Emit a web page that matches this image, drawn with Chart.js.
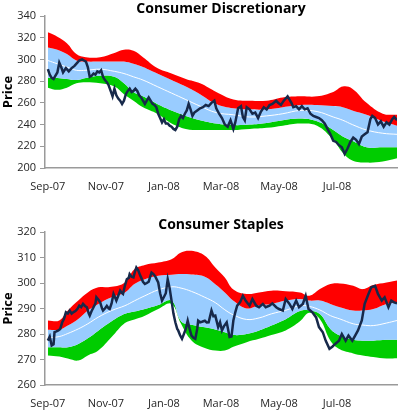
<!DOCTYPE html>
<html>
<head>
<meta charset="utf-8">
<script src="https://cdn.jsdelivr.net/npm/chart.js@4.4.0/dist/chart.umd.min.js"></script>
<style>
  html, body { margin: 0; padding: 0; background: #fff; }
  #wrap { position: relative; width: 400px; height: 413px; }
  canvas { position: absolute; left: 0; }
  #discChart { top: 0; }
  #stapChart { top: 200px; }
</style>
</head>
<body>
<div id="wrap">
  <canvas id="discChart" width="400" height="200"></canvas>
  <canvas id="stapChart" width="400" height="213"></canvas>
</div>
<script>
// x axis: days since 1 Sep 2007, labelled every two months
const tickDays = [0, 61, 122, 182, 243, 304];
const tickLabels = ['Sep-07', 'Nov-07', 'Jan-08', 'Mar-08', 'May-08', 'Jul-08'];

// Consumer Discretionary bands
const discBandDays   = [0, 10, 20, 30, 40, 55, 70, 80, 90, 100, 115, 130, 145, 160, 177, 195, 212, 230, 247, 265, 283, 300, 310, 320, 335, 352, 367];
const discRedTop     = [325, 321, 315, 305, 302, 302, 306, 309, 308, 302, 292, 287, 282, 278, 270, 263, 262, 262, 265, 266, 266, 270, 275, 273, 260, 250, 249];
const discBlueTop    = [311, 309, 305, 299, 298, 298, 298, 298, 296, 293, 287, 281, 275, 268, 259, 255, 254, 254, 256, 258, 258, 257, 256, 253, 249, 243, 239];
const discMid        = [299, 296, 293, 290, 290, 291, 289, 287, 284, 281, 275, 269, 263, 257, 251, 249, 247, 248, 250, 253, 252, 247, 244, 240, 235, 232, 231];
const discBlueBottom = [283, 283, 282, 281, 283, 285, 284, 278, 270, 266, 259, 253, 248, 244, 241, 239.5, 240, 241.5, 244, 245.5, 243, 235, 229, 225, 219, 219, 219];
const discGreenBottom= [274, 272, 274, 278, 279, 278, 275, 268, 262, 256, 250, 241, 236, 235, 235, 235, 236, 237, 239, 241, 239, 226, 214, 207, 205, 206, 209];

const discPriceDays = [0, 2, 4, 6, 8, 10, 12, 14, 16, 19, 22, 25, 28, 31, 33, 36, 38, 40, 42, 44, 46, 48, 50, 52, 54, 56, 58, 60, 62, 64, 66, 68, 70, 72, 74, 76, 78, 80, 82, 84, 86, 88, 90, 92, 94, 96, 98, 100, 102, 104, 106, 108, 110, 112, 114, 116, 118, 120, 122, 124, 126, 128, 130, 132, 134, 136, 138, 140, 142, 144, 146, 148, 150, 152, 154, 157, 160, 163, 166, 169, 172, 175, 177, 180, 183, 186, 189, 192, 195, 197, 200, 203, 205, 207, 209, 212, 215, 218, 221, 224, 227, 230, 233, 236, 240, 242, 245, 248, 252, 254, 256, 258, 261, 264, 267, 270, 273, 276, 279, 282, 285, 288, 291, 294, 297, 300, 303, 306, 309, 312, 315, 318, 321, 324, 327, 330, 333, 336, 339, 341, 344, 347, 350, 353, 356, 359, 362, 364, 367];
const discPrice     = [291, 286, 283, 282, 285, 288, 297, 293, 288, 292, 289, 292, 294, 297, 299, 300, 299, 298, 293, 284, 285, 287, 286, 289, 288, 290, 284, 281, 279, 276, 271, 266, 273, 267, 264, 262, 259, 262, 268, 271, 273, 270, 271, 273, 271, 267, 265, 262, 259, 262, 265, 262, 259, 258, 256, 250, 246, 242, 245, 241, 241, 239, 238, 236, 235, 238, 245, 248, 246, 250, 253, 259, 254, 248, 251, 253, 255, 256, 258, 257, 260, 262, 255, 250, 246, 240, 238, 244, 236, 242, 255, 257, 247, 244, 256, 254, 250, 251, 246, 252, 256, 254, 258, 259, 262, 260, 258, 262, 266, 263, 260, 256, 257, 254, 257, 254, 255, 250, 248, 247, 246, 244, 241, 236, 231, 225, 224, 221, 219, 213, 218, 224, 228, 226, 222, 229, 231, 233, 245, 248, 246, 240, 243, 238, 242, 240, 245, 247, 244];

// Consumer Staples bands
const stapBandDays   = [0, 12, 21, 32, 42, 53, 67, 81, 91, 102, 116, 130, 140, 151, 165, 176, 186, 195, 209, 222, 235, 250, 265, 275, 286, 297, 307, 321, 331, 342, 356, 367];
const stapRedTop     = [285.3, 285.3, 289.2, 293.1, 296.3, 298.3, 298.5, 300.2, 305.4, 307.1, 308, 309.3, 312, 312.6, 310.7, 306.1, 302.2, 297.5, 295.7, 296.3, 297, 296.8, 296.3, 295, 297.6, 299.6, 299.8, 298.9, 297.6, 299.2, 300.2, 301];
const stapBlueTop    = [281.7, 281.7, 283.3, 285.9, 289.2, 291.8, 294.4, 296.3, 299.6, 301.5, 302.8, 303.2, 303.5, 303.3, 302.5, 299.5, 296.3, 293, 290, 291.3, 291.8, 293.1, 293.7, 293.1, 293.1, 291.8, 290.5, 289.2, 289.2, 289.8, 291.8, 292.4];
const stapMid        = [278.5, 279, 280.2, 282, 284, 286.6, 289.2, 291.1, 293, 295, 297.3, 298.5, 298, 296.7, 294.4, 292.3, 289.5, 287.5, 285.7, 286.3, 287.9, 289.3, 291.1, 290.8, 289.4, 287.2, 285.9, 284, 283.5, 283.3, 284.3, 285.3];
const stapBlueBottom = [274.8, 274.8, 274.8, 276.1, 278.3, 281.3, 285, 287.9, 288.8, 289.8, 291.4, 293.1, 285, 283.6, 282.6, 281.8, 280.7, 279.6, 280, 281.4, 283.3, 285.8, 289, 289.2, 287.8, 282, 279.4, 277.7, 277.4, 277.4, 277.7, 277.7];
const stapGreenBottom= [271.6, 271.2, 270.4, 269.6, 271.6, 273.5, 278.8, 284.3, 285.7, 287.2, 289.8, 291.8, 284, 277.5, 274.5, 273.5, 273.5, 275, 276.8, 278.1, 279.6, 281.4, 285, 288.3, 285.8, 277.4, 274, 272.4, 271.6, 271, 270.4, 270.5];

const stapPriceDays = [0, 2, 4, 6, 7, 9, 11, 13, 15, 17, 19, 21, 23, 25, 27, 29, 31, 33, 35, 37, 39, 41, 43, 44, 46, 48, 50, 51, 53, 55, 57, 58, 60, 62, 64, 65, 67, 69, 71, 72, 74, 76, 78, 79, 81, 83, 85, 86, 88, 90, 92, 93, 95, 97, 98, 100, 102, 104, 106, 108, 109, 111, 113, 116, 118, 120, 122, 124, 126, 128, 130, 132, 134, 136, 137, 139, 141, 143, 145, 147, 149, 151, 153, 155, 157, 158, 160, 162, 165, 167, 169, 172, 174, 176, 179, 181, 183, 185, 188, 191, 193, 195, 197, 199, 202, 205, 208, 212, 215, 219, 222, 226, 229, 233, 236, 240, 243, 247, 250, 254, 257, 261, 264, 268, 271, 274, 278, 282, 285, 289, 292, 296, 299, 302, 306, 309, 313, 316, 320, 323, 326, 330, 333, 337, 340, 344, 347, 351, 354, 358, 361, 364, 367];
const stapPrice     = [277.4, 279, 275.5, 276, 280.7, 281, 281.4, 282, 284.5, 286, 288.5, 288, 289.2, 288, 288.6, 289, 289.8, 291.1, 290.5, 291.8, 291, 290.5, 288, 287.2, 289, 290.5, 292, 294.4, 293.5, 292.4, 290, 289.2, 290, 291, 290, 289.8, 292, 295.7, 294, 293.1, 295, 297, 296, 295.7, 299, 301.5, 302, 303.5, 302.5, 302.2, 305, 306.1, 305, 303, 302.2, 300.5, 299.6, 300, 300.5, 303, 304.1, 303.5, 302.5, 300.2, 296, 293.1, 294.5, 296, 301.5, 298, 293.1, 288, 284.6, 282, 281.4, 279.5, 278.1, 280, 282, 285.2, 282, 279.4, 278.5, 278.1, 282, 285.2, 284.6, 284.8, 285.2, 284.5, 284.6, 289.2, 287, 287.2, 282.7, 284.6, 281.4, 283, 284.6, 278.8, 279, 285.3, 288.5, 291.1, 292.4, 295, 293, 291.1, 293.7, 291.1, 290.5, 291.8, 290.5, 291.1, 292, 290.5, 289.8, 289.2, 293.7, 291.8, 289.8, 293.1, 290.5, 291.8, 295, 289.8, 288.5, 286.5, 282.7, 280.7, 277.4, 274.2, 275, 276.1, 277.4, 280, 277.4, 279.4, 277.4, 279.4, 281.4, 285.3, 291.8, 295.7, 298.3, 298.9, 295.7, 293.1, 294.4, 290.5, 293.1, 292.4, 292];

const RED = '#ff0000';
const BLUE = '#99ccff';
const GREEN = '#00cc00';
const NAVY = '#17294a';
const AXIS = '#9a9a9a';
const TEXT = '#262626';
const FONT = "'Open Sans', sans-serif";

function makeDatasets(days, redTop, blueTop, mid, blueBottom, greenBottom, priceDays, price) {
  const pts = arr => days.map((d, i) => ({ x: d, y: arr[i] }));
  const band = { pointRadius: 0, borderWidth: 0, borderColor: 'rgba(0,0,0,0)', tension: 0.4, order: 2 };
  return [
    { ...band, data: pts(redTop), fill: '+1', backgroundColor: RED },
    { ...band, data: pts(blueTop), fill: '+2', backgroundColor: BLUE },
    { data: pts(mid), borderColor: '#ffffff', borderWidth: 1, pointRadius: 0, fill: false, tension: 0.4, order: 1 },
    { ...band, data: pts(blueBottom), fill: '+1', backgroundColor: GREEN },
    { ...band, data: pts(greenBottom), fill: false },
    {
      data: priceDays.map((d, i) => ({ x: d, y: price[i] })),
      borderColor: NAVY, borderWidth: 2.5, pointRadius: 0, fill: false, tension: 0, order: 0
    }
  ];
}

function makeChart(id, title, titlePadTop, yMin, yMax, yStep, xAxisHeight, datasets) {
  return new Chart(document.getElementById(id), {
    type: 'line',
    data: { datasets: datasets },
    options: {
      responsive: false,
      animation: false,
      layout: { padding: { left: 0, right: 3, top: 0, bottom: 0 } },
      plugins: {
        legend: { display: false },
        tooltip: { enabled: false },
        title: {
          display: true,
          text: title,
          fullSize: false,
          color: '#000',
          font: { family: FONT, size: 14, weight: 'bold', lineHeight: 1 },
          padding: { top: titlePadTop, bottom: 0 }
        }
      },
      scales: {
        x: {
          type: 'linear',
          min: -3,
          max: 367,
          afterBuildTicks: s => { s.ticks = tickDays.map(v => ({ value: v })); },
          afterFit: s => { s.height = xAxisHeight; },
          ticks: {
            autoSkip: false,
            maxRotation: 0,
            padding: 12,
            color: TEXT,
            font: { family: FONT, size: 11 },
            callback: (v, i) => tickLabels[i]
          },
          grid: { display: false, drawTicks: false },
          border: { display: true, color: AXIS, width: 1.5 }
        },
        y: {
          min: yMin,
          max: yMax,
          afterFit: s => { s.width = 45; },
          ticks: { stepSize: yStep, padding: 4, color: TEXT, font: { family: FONT, size: 11 } },
          grid: { drawOnChartArea: false, drawTicks: true, tickLength: 5, color: AXIS, lineWidth: 1 },
          border: { display: true, color: AXIS, width: 1.5 },
          title: {
            display: true,
            text: 'Price',
            color: '#000',
            padding: 0,
            font: { family: FONT, size: 13, weight: 'bold' }
          }
        }
      }
    }
  });
}

makeChart('discChart', 'Consumer Discretionary', 2, 200, 340, 20, 32,
  makeDatasets(discBandDays, discRedTop, discBlueTop, discMid, discBlueBottom, discGreenBottom, discPriceDays, discPrice));

makeChart('stapChart', 'Consumer Staples', 18, 260, 320, 10, 28,
  makeDatasets(stapBandDays, stapRedTop, stapBlueTop, stapMid, stapBlueBottom, stapGreenBottom, stapPriceDays, stapPrice));
</script>
</body>
</html>
